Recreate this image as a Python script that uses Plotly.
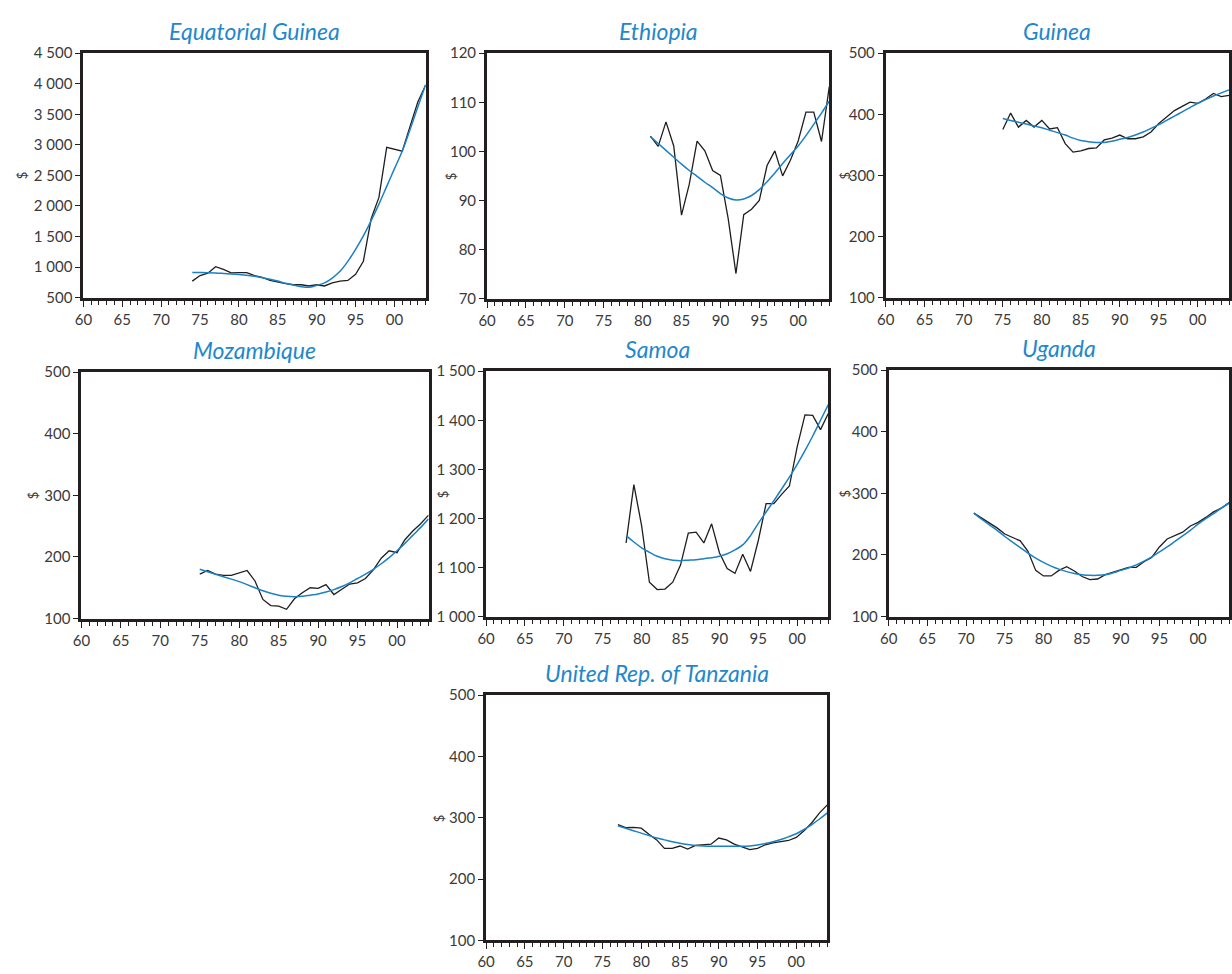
import plotly.graph_objects as go

# ---------------- data ----------------
eqg_years = list(range(1974, 2005))
eqg_gdp = [769, 860, 900, 1005, 960, 905, 910, 910, 860, 830, 780, 750, 730, 710, 710, 690,
           710, 690, 740, 770, 780, 880, 1095, 1790, 2140, 2960, 2930, 2895, 3300, 3700, 3975]
eqg_trend = [909, 909, 908, 903, 895, 886, 877, 866, 848, 826, 800, 770, 735, 705, 678, 668,
             700, 740, 820, 930, 1092, 1290, 1510, 1760, 2030, 2320, 2610, 2900, 3250, 3620, 3985]

eth_years = list(range(1981, 2005))
eth_gdp = [103.1, 101, 106, 101.1, 87, 93.3, 102.1, 100.1, 96.1, 95.1, 86.3, 75.1, 87.1, 88.2,
           90, 97.1, 100.1, 95, 98.2, 102.1, 108, 108, 102, 113.2]
eth_trend = [103, 101.6, 100.2, 98.8, 97.4, 96.1, 94.9, 93.7, 92.6, 91.4, 90.5, 90.1, 90.3, 91,
             92.2, 93.8, 95.6, 97.5, 99.3, 101.1, 103.2, 105.5, 107.8, 110.2]

gui_years = list(range(1975, 2005))
gui_gdp = [375, 402, 379, 390, 379, 390, 376, 378, 352, 338, 340, 344, 345, 358, 361, 366,
           360, 360, 363, 371, 385, 395, 406, 413, 420, 418, 425, 434, 429, 431]
gui_trend = [393, 390, 387, 384, 381, 378, 374, 370, 366, 361, 357, 355, 354, 354, 356, 359,
             362, 366, 371, 377, 383, 390, 397, 404, 411, 418, 424, 430, 435, 440]

moz_years = list(range(1975, 2005))
moz_gdp = [172, 178, 172, 170, 170, 174, 178, 161, 131, 121, 120, 115, 132, 142, 150, 149,
           155, 139, 148, 156, 158, 165, 179, 198, 210, 207, 228, 242, 254, 268]
moz_trend = [180, 176, 172, 168, 164, 160, 155, 150, 145, 141, 138, 136, 135.5, 136, 138, 140,
             143, 147, 152, 158, 165, 172, 180, 189, 199, 210, 222, 235, 248, 262]

sam_years = list(range(1978, 2005))
sam_gdp = [1150, 1269, 1185, 1070, 1055, 1056, 1070, 1105, 1170, 1172, 1150, 1189, 1130, 1098,
           1088, 1127, 1092, 1155, 1230, 1230, 1249, 1266, 1346, 1411, 1410, 1381, 1414]
sam_trend = [1165, 1152, 1140, 1131, 1123, 1118, 1115, 1114, 1115, 1116, 1118, 1120, 1123, 1128,
             1136, 1146, 1165, 1190, 1213, 1236, 1260, 1284, 1310, 1338, 1368, 1400, 1432]

uga_years = list(range(1971, 2005))
uga_gdp = [268, 260, 252, 244, 234, 228, 223, 206, 175, 166, 166, 175, 181, 174, 165, 160, 161,
           168, 172, 175, 180, 180, 189, 196, 213, 226, 231, 237, 247, 253, 261, 270, 276, 285]
uga_trend = [268, 258, 249, 240, 230, 221, 212, 203, 195, 188, 182, 177, 173, 170, 168, 167,
             167, 168, 171, 175, 179, 184, 190, 197, 205, 213, 222, 231, 240, 250, 259, 267, 276, 284]

tza_years = list(range(1977, 2005))
tza_gdp = [289, 284, 284.5, 283, 273, 264, 250, 250, 254, 249, 255, 256, 257, 267, 264, 257,
           252.5, 248, 250, 256, 259, 260.5, 263, 268, 279, 292, 308, 321]
tza_trend = [287, 283, 279, 275, 271, 267, 264, 261, 258.5, 256.5, 255, 254, 253.5, 253.5,
             253.5, 253.5, 253.5, 254, 255.5, 258, 261, 264.5, 269, 274, 281, 289, 298, 308]

panel_titles = ["Equatorial Guinea", "Ethiopia", "Guinea", "Mozambique", "Samoa", "Uganda",
                "United Rep. of Tanzania"]

x_tickvals = [1960, 1965, 1970, 1975, 1980, 1985, 1990, 1995, 2000]
x_ticktext = ["60", "65", "70", "75", "80", "85", "90", "95", "00"]

eqg_yticks = [500, 1000, 1500, 2000, 2500, 3000, 3500, 4000, 4500]
eqg_ylabels = ["500", "1 000", "1 500", "2 000", "2 500", "3 000", "3 500", "4 000", "4 500"]
eth_yticks = [70, 80, 90, 100, 110, 120]
eth_ylabels = ["70", "80", "90", "100", "110", "120"]
std_yticks = [100, 200, 300, 400, 500]
std_ylabels = ["100", "200", "300", "400", "500"]
sam_yticks = [1000, 1100, 1200, 1300, 1400, 1500]
sam_ylabels = ["1 000", "1 100", "1 200", "1 300", "1 400", "1 500"]

# ---------------- layout helpers ----------------
W, H = 1232, 974
# pixel boxes: left, right, top, bottom
boxes = [
    (75, 420, 44, 293),
    (482, 827, 44, 294),
    (884, 1230, 44, 293),
    (73, 423, 369, 620),
    (481, 826, 368, 618),
    (887, 1230, 367, 618),
    (481, 825, 698, 948),
]
ylab_dx = [62, 37, 41, 48, 44, 44, 48]

series = [
    (eqg_years, eqg_gdp, eqg_trend, eqg_yticks, eqg_ylabels),
    (eth_years, eth_gdp, eth_trend, eth_yticks, eth_ylabels),
    (gui_years, gui_gdp, gui_trend, std_yticks, std_ylabels),
    (moz_years, moz_gdp, moz_trend, std_yticks, std_ylabels),
    (sam_years, sam_gdp, sam_trend, sam_yticks, sam_ylabels),
    (uga_years, uga_gdp, uga_trend, std_yticks, std_ylabels),
    (tza_years, tza_gdp, tza_trend, std_yticks, std_ylabels),
]

BLACK = "#1e1e1e"
FRAME = "#231f20"
BLUE = "#1b80c4"
TITLE_BLUE = "#1f88cc"
TICK_COL = "#3a3a3a"
FONT = "Lato"

fig = go.Figure()
layout = dict(
    width=W, height=H,
    margin=dict(l=0, r=0, t=0, b=0),
    paper_bgcolor="white", plot_bgcolor="white",
    showlegend=False,
    font=dict(family=FONT, color=TICK_COL, size=15),
)
annotations = []

for i, ((yrs, gdp, trend, ytv, ytt), (l, r, t, b)) in enumerate(zip(series, boxes)):
    n = i + 1
    xa = "x" if n == 1 else f"x{n}"
    ya = "y" if n == 1 else f"y{n}"
    fig.add_trace(go.Scatter(x=yrs, y=gdp, mode="lines", xaxis=xa, yaxis=ya,
                             line=dict(color=BLACK, width=1.3)))
    fig.add_trace(go.Scatter(x=yrs, y=trend, mode="lines", xaxis=xa, yaxis=ya,
                             line=dict(color=BLUE, width=1.5, shape="spline")))
    xd = [l / W, r / W]
    yd = [1 - b / H, 1 - t / H]
    layout["xaxis" if n == 1 else f"xaxis{n}"] = dict(
        domain=xd, anchor=ya, range=[1960, 2004],
        tickmode="array", tickvals=x_tickvals, ticktext=x_ticktext,
        ticks="outside", ticklen=6, tickwidth=1.2, tickcolor=FRAME,
        minor=dict(tickmode="linear", tick0=1960, dtick=1, ticks="outside",
                   ticklen=4, tickwidth=1, tickcolor=FRAME),
        showline=True, mirror=True, linecolor=FRAME, linewidth=3,
        showgrid=False, zeroline=False, fixedrange=True,
        tickfont=dict(family=FONT, size=15, color=TICK_COL),
    )
    layout["yaxis" if n == 1 else f"yaxis{n}"] = dict(
        domain=yd, anchor=xa, range=[ytv[0], ytv[-1]],
        tickmode="array", tickvals=ytv, ticktext=ytt,
        ticks="outside", ticklen=5, tickwidth=1.2, tickcolor=FRAME,
        showline=True, mirror=True, linecolor=FRAME, linewidth=3,
        showgrid=False, zeroline=False, fixedrange=True,
        tickfont=dict(family=FONT, size=15, color=TICK_COL),
    )
    # panel title
    annotations.append(dict(
        x=(l + r) / 2 / W, y=1 - (t - 23) / H, xref="paper", yref="paper",
        text=f"<i>{panel_titles[i]}</i>", showarrow=False,
        xanchor="center", yanchor="middle",
        font=dict(family=FONT, size=23, color=TITLE_BLUE),
    ))
    # y-axis label "$"
    annotations.append(dict(
        x=(l - ylab_dx[i]) / W, y=1 - (t + b) / 2 / H, xref="paper", yref="paper",
        text="$", showarrow=False, textangle=-90,
        xanchor="center", yanchor="middle",
        font=dict(family=FONT, size=13, color=TICK_COL),
    ))

layout["annotations"] = annotations
fig.update_layout(**layout)
fig.write_html("out.html")
